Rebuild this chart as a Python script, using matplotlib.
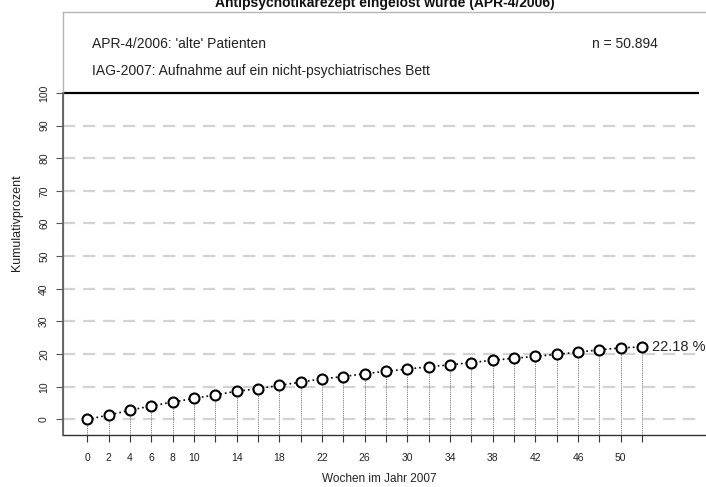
import matplotlib
matplotlib.use("Agg")
import matplotlib.pyplot as plt

plt.rcParams['font.family'] = ['Liberation Sans', 'DejaVu Sans']

# Cumulative share per week of 2007
weeks = [0, 2, 4, 6, 8, 10, 12, 14, 16, 18, 20, 22, 24, 26,
         28, 30, 32, 34, 36, 38, 40, 42, 44, 46, 48, 50, 52]
cum_percent = [0.0, 1.3, 2.8, 4.1, 5.3, 6.4, 7.5, 8.6, 9.4, 10.4, 11.4, 12.4, 13.1,
               14.0, 14.7, 15.4, 16.1, 16.7, 17.4, 18.1, 18.7, 19.3, 19.9, 20.6,
               21.3, 21.9, 22.18]
labeled_weeks = [0, 2, 4, 6, 8, 10, 14, 18, 22, 26, 30, 34, 38, 42, 46, 50]
y_ticks = [0, 10, 20, 30, 40, 50, 60, 70, 80, 90, 100]
grid_levels = [0, 10, 20, 30, 40, 50, 60, 70, 80, 90]

title = "Antipsychotikarezept eingelöst wurde (APR-4/2006)"
line1 = "APR-4/2006: 'alte' Patienten"
line2 = "IAG-2007: Aufnahme auf ein nicht-psychiatrisches Bett"
n_text = "n = 50.894"
end_label = "22.18 %"

W, H = 706, 487
fig = plt.figure(figsize=(W / 100, H / 100), dpi=100)
ax = fig.add_axes([63 / W, 52 / H, (720 - 63) / W, (475 - 52) / H])

xmin, xmax = -2.28, 59.3
ymin, ymax = -4.8, 124.8
ax.set_xlim(xmin, xmax)
ax.set_ylim(ymin, ymax)

# frame
for side in ['top', 'left']:
    ax.spines[side].set_color('#b5b5b5')
    ax.spines[side].set_linewidth(1.0)
ax.spines['right'].set_visible(False)
ax.spines['bottom'].set_color('#333333')
ax.spines['bottom'].set_linewidth(1.0)
ax.plot([xmin, xmin], [ymin, 100], color='#555555', lw=1.2, clip_on=False, zorder=3)

# reference lines
x_end = 57.3
ax.hlines(grid_levels, xmin, x_end, colors='#d3d3d3', lw=1.6,
          linestyles=[(0, (5.5, 3.5))], zorder=1)
ax.hlines([100], xmin, x_end, colors='black', lw=1.6, zorder=2)

# drop lines, connecting line and markers
ax.vlines(weeks, ymin, cum_percent, colors='#666666', lw=0.7,
          linestyles=[(0, (1, 1.2))], zorder=2)
ax.plot(weeks, cum_percent, color='black', lw=1.2, linestyle=(0, (1, 1.8)), zorder=3)
ax.plot(weeks, cum_percent, linestyle='none', marker='o', ms=7.2, mfc='white',
        mec='black', mew=1.5, zorder=4)

ax.annotate(end_label, xy=(weeks[-1], cum_percent[-1]), xytext=(7, 0),
            textcoords='offset points', va='center', ha='left', fontsize=10.5,
            color='#222222', annotation_clip=False)

# ticks
ax.set_xticks(weeks)
ax.set_xticklabels([str(w) if w in labeled_weeks else '' for w in weeks])
ax.tick_params(axis='x', length=5, width=0.8, color='#333333', pad=8,
               labelsize=7.5, labelcolor='#222222')
ax.set_yticks(y_ticks)
ax.set_yticklabels([str(v) for v in y_ticks], rotation=90, va='center')
ax.tick_params(axis='y', length=5, width=0.8, color='#555555', pad=5,
               labelsize=7.5, labelcolor='#222222')

# texts
fig.text(385 / W, 1 - 7 / H, title, ha='center', va='baseline',
         fontsize=10, fontweight='bold', color='#111111')
fig.text(92 / W, 1 - 44 / H, line1, ha='left', va='center', fontsize=10, color='#222222')
fig.text(92 / W, 1 - 71 / H, line2, ha='left', va='center', fontsize=10, color='#222222')
fig.text(658 / W, 1 - 44 / H, n_text, ha='right', va='center', fontsize=10, color='#222222')
fig.text(379 / W, 1 - 479 / H, "Wochen im Jahr 2007", ha='center', va='center',
         fontsize=8.5, color='#222222')
fig.text(17 / W, 1 - 223 / H, "Kumulativprozent", ha='center', va='center',
         rotation=90, fontsize=9, color='#222222')

fig.savefig("out.png", dpi=100)
